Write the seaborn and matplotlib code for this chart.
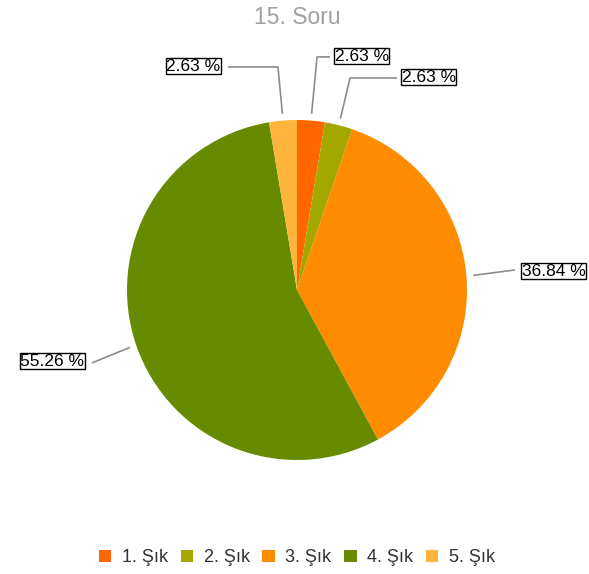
import numpy as np
import matplotlib
matplotlib.use("Agg")
import matplotlib.pyplot as plt
import seaborn as sns

# Answers to question 15 (counts per option)
options = ["1. Şık", "2. Şık", "3. Şık", "4. Şık", "5. Şık"]
counts = [1, 1, 14, 21, 1]
percent_labels = ["2.63 %", "2.63 %", "36.84 %", "55.26 %", "2.63 %"]
slice_colors = ["#ff6600", "#a3a800", "#ff8c00", "#678b00", "#ffb53c"]

sns.set_theme(style="white")
plt.rcParams["font.family"] = ["Liberation Sans", "DejaVu Sans"]
palette = sns.color_palette(slice_colors)

fig = plt.figure(figsize=(5.89, 5.74), dpi=100)
ax = fig.add_axes([0, 0, 1, 1])

wedges, _ = ax.pie(counts, colors=palette, startangle=90, counterclock=False,
                   radius=1.0, center=(0, 0),
                   wedgeprops=dict(edgecolor="none", linewidth=0))
ax.set_aspect("auto")
ax.set_xlim(-297 / 170, (589 - 297) / 170)
ax.set_ylim((290 - 574) / 170, 290 / 170)
ax.axis("off")

# leader line routes: (elbow or None, end point, text anchor, horizontal alignment)
routes = [
    ((0.118, 1.371), (0.194, 1.371), (0.222, 1.376), "left"),
    ((0.312, 1.247), (0.588, 1.247), (0.616, 1.252), "left"),
    (None, (1.282, 0.118), (1.322, 0.110), "left"),
    (None, (-1.206, -0.429), (-1.252, -0.420), "right"),
    ((-0.112, 1.312), (-0.406, 1.312), (-0.452, 1.317), "right"),
]

for w, txt, (elbow, end, anchor, ha) in zip(wedges, percent_labels, routes):
    mid = np.deg2rad((w.theta1 + w.theta2) / 2)
    start = (1.04 * np.cos(mid), 1.04 * np.sin(mid))
    pts = [start] + ([elbow] if elbow else []) + [end]
    xs, ys = zip(*pts)
    ax.plot(xs, ys, color="#8c8c8c", lw=1.2, solid_capstyle="butt")
    ax.text(anchor[0], anchor[1], txt, ha=ha, va="center", fontsize=12.5,
            color="black",
            bbox=dict(boxstyle="square,pad=0.03", facecolor="white",
                      edgecolor="black", linewidth=1.0))

fig.text(297 / 589, 1 - 17 / 574, "15. Soru", ha="center", va="center",
         fontsize=16.5, color="#a0a0a0")

leg = fig.legend(wedges, options, loc="center", ncol=5, frameon=False,
                 bbox_to_anchor=(297 / 589, 1 - 558 / 574),
                 fontsize=13, handlelength=0.68, handleheight=0.68,
                 handletextpad=0.6, columnspacing=0.7, borderaxespad=0)
for t in leg.get_texts():
    t.set_color("#333333")

fig.savefig("out.png", dpi=100)
